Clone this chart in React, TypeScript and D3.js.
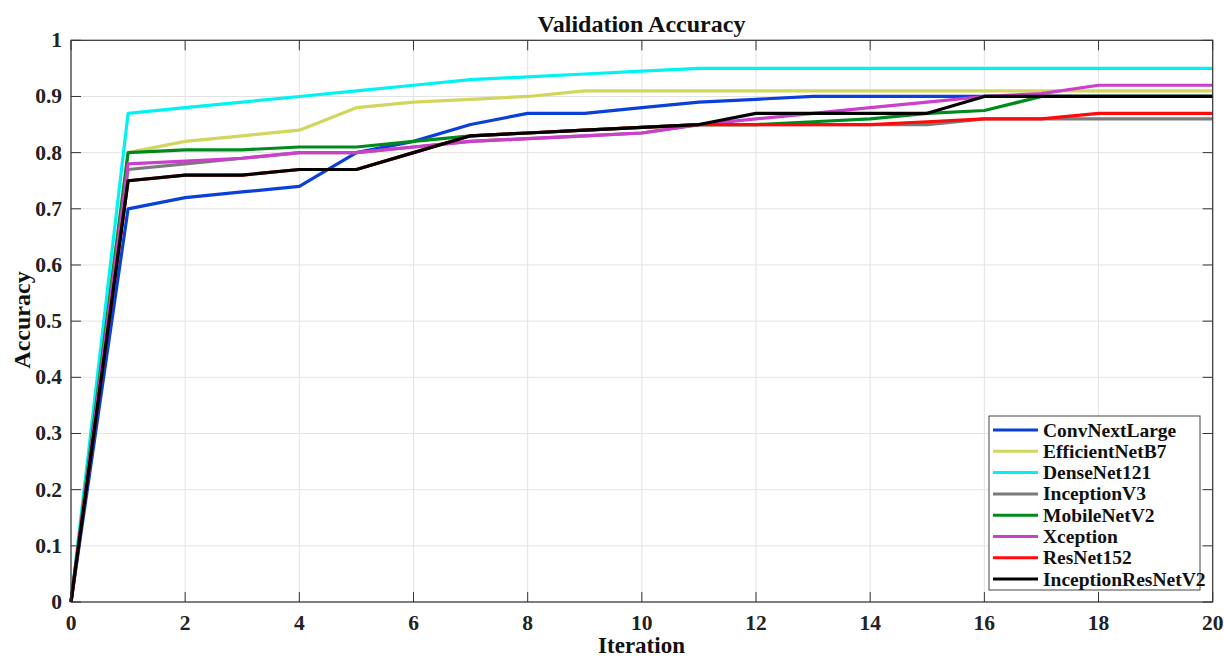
import React from "react";
import * as d3 from "d3";

const iterations = d3.range(0, 21);
const seriesNames = [
  "ConvNextLarge",
  "EfficientNetB7",
  "DenseNet121",
  "InceptionV3",
  "MobileNetV2",
  "Xception",
  "ResNet152",
  "InceptionResNetV2",
];
const seriesColors = ["#0a3fd8", "#d2d65c", "#00f2f2", "#7a7a7a", "#008a1e", "#cc3fcc", "#ff0a0a", "#000000"];

const convNextLarge = [0, 0.70, 0.72, 0.73, 0.74, 0.80, 0.82, 0.85, 0.87, 0.87, 0.88, 0.89, 0.895, 0.90, 0.90, 0.90, 0.90, 0.90, 0.90, 0.90, 0.90];
const efficientNetB7 = [0, 0.80, 0.82, 0.83, 0.84, 0.88, 0.89, 0.895, 0.90, 0.91, 0.91, 0.91, 0.91, 0.91, 0.91, 0.91, 0.91, 0.91, 0.91, 0.91, 0.91];
const denseNet121 = [0, 0.87, 0.88, 0.89, 0.90, 0.91, 0.92, 0.93, 0.935, 0.94, 0.945, 0.95, 0.95, 0.95, 0.95, 0.95, 0.95, 0.95, 0.95, 0.95, 0.95];
const inceptionV3 = [0, 0.77, 0.78, 0.79, 0.80, 0.80, 0.81, 0.82, 0.825, 0.83, 0.835, 0.85, 0.85, 0.85, 0.85, 0.85, 0.86, 0.86, 0.86, 0.86, 0.86];
const mobileNetV2 = [0, 0.80, 0.805, 0.805, 0.81, 0.81, 0.82, 0.83, 0.835, 0.84, 0.845, 0.85, 0.85, 0.855, 0.86, 0.87, 0.875, 0.90, 0.90, 0.90, 0.90];
const xception = [0, 0.78, 0.785, 0.79, 0.80, 0.80, 0.81, 0.82, 0.825, 0.83, 0.835, 0.85, 0.86, 0.87, 0.88, 0.89, 0.90, 0.905, 0.92, 0.92, 0.92];
const resNet152 = [0, 0.75, 0.76, 0.76, 0.77, 0.77, 0.80, 0.83, 0.835, 0.84, 0.845, 0.85, 0.85, 0.85, 0.85, 0.855, 0.86, 0.86, 0.87, 0.87, 0.87];
const inceptionResNetV2 = [0, 0.75, 0.76, 0.76, 0.77, 0.77, 0.80, 0.83, 0.835, 0.84, 0.845, 0.85, 0.87, 0.87, 0.87, 0.87, 0.90, 0.90, 0.90, 0.90, 0.90];

const seriesValues = [convNextLarge, efficientNetB7, denseNet121, inceptionV3, mobileNetV2, xception, resNet152, inceptionResNetV2];

const xTicks = [0, 2, 4, 6, 8, 10, 12, 14, 16, 18, 20];
const yTicks = [0, 0.1, 0.2, 0.3, 0.4, 0.5, 0.6, 0.7, 0.8, 0.9, 1];

const W = 1224;
const H = 659;
const L = 71;
const R = 1212.7;
const T = 40.3;
const B = 602;
const FONT = "'Liberation Serif', 'Times New Roman', serif";

export default function App() {
  const x = d3.scaleLinear().domain([0, 20]).range([L, R]);
  const y = d3.scaleLinear().domain([0, 1]).range([B, T]);
  const line = d3
    .line<number>()
    .x((_, i) => x(iterations[i]))
    .y((d) => y(d));

  const axisColor = "#333";
  const gridColor = "#e3e3e3";
  const tickLen = 10;

  const legX = 989;
  const legY = 416;
  const legW = 211;
  const legH = 174;
  const rowH = 21.3;

  return (
    <svg width={W} height={H} style={{ position: "absolute", left: 0, top: 0, background: "#fff" }} fontFamily={FONT}>
      <rect x={0} y={0} width={W} height={H} fill="#fff" />
      {/* grid */}
      {xTicks.map((t) => (
        <line key={"gx" + t} x1={x(t)} x2={x(t)} y1={T} y2={B} stroke={gridColor} strokeWidth={1} />
      ))}
      {yTicks.map((t) => (
        <line key={"gy" + t} x1={L} x2={R} y1={y(t)} y2={y(t)} stroke={gridColor} strokeWidth={1} />
      ))}
      {/* ticks */}
      {xTicks.map((t) => (
        <g key={"tx" + t}>
          <line x1={x(t)} x2={x(t)} y1={B} y2={B - tickLen} stroke={axisColor} strokeWidth={1} />
          <line x1={x(t)} x2={x(t)} y1={T} y2={T + tickLen} stroke={axisColor} strokeWidth={1} />
          <text x={x(t)} y={630} textAnchor="middle" fontSize={21.5} fontWeight="bold" fill="#222">
            {d3.format("d")(t)}
          </text>
        </g>
      ))}
      {yTicks.map((t) => (
        <g key={"ty" + t}>
          <line x1={L} x2={L + tickLen} y1={y(t)} y2={y(t)} stroke={axisColor} strokeWidth={1} />
          <line x1={R} x2={R - tickLen} y1={y(t)} y2={y(t)} stroke={axisColor} strokeWidth={1} />
          <text x={62} y={y(t) + 7} textAnchor="end" fontSize={21.5} fontWeight="bold" fill="#222">
            {t === 0 || t === 1 ? d3.format("d")(t) : d3.format(".1f")(t)}
          </text>
        </g>
      ))}
      {/* series */}
      {seriesValues.map((vals, i) => (
        <path
          key={seriesNames[i]}
          d={line(vals) || ""}
          fill="none"
          stroke={seriesColors[i]}
          strokeWidth={3.2}
          strokeLinejoin="round"
        />
      ))}
      {/* box */}
      <rect x={L} y={T} width={R - L} height={B - T} fill="none" stroke={axisColor} strokeWidth={1.2} />
      {/* title and labels */}
      <text x={641.5} y={32} textAnchor="middle" fontSize={24} fontWeight="bold" fill="#111">
        Validation Accuracy
      </text>
      <text x={641.5} y={653} textAnchor="middle" fontSize={23} fontWeight="bold" fill="#111">
        Iteration
      </text>
      <text
        transform={`translate(30, 320) rotate(-90)`}
        textAnchor="middle"
        fontSize={24}
        fontWeight="bold"
        fill="#111"
      >
        Accuracy
      </text>
      {/* legend */}
      <rect x={legX} y={legY} width={legW} height={legH} fill="#fff" stroke="#444" strokeWidth={1} />
      {seriesNames.map((name, i) => {
        const cy = legY + 14 + i * rowH;
        return (
          <g key={"leg" + name}>
            <line x1={legX + 4} x2={legX + 49} y1={cy} y2={cy} stroke={seriesColors[i]} strokeWidth={3} />
            <text x={legX + 54} y={cy + 6.5} fontSize={19.5} fontWeight="bold" fill="#111">
              {name}
            </text>
          </g>
        );
      })}
    </svg>
  );
}
